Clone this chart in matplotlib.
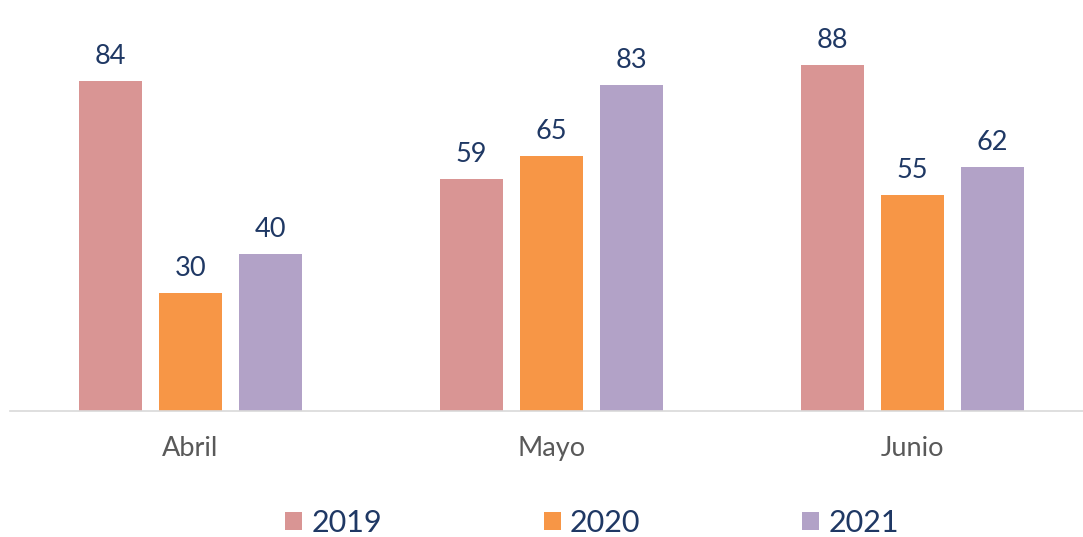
import matplotlib
matplotlib.use("Agg")
import matplotlib.pyplot as plt
import numpy as np

months = ["Abril", "Mayo", "Junio"]
years = ["2019", "2020", "2021"]
v2019 = [84, 59, 88]
v2020 = [30, 65, 55]
v2021 = [40, 83, 62]
series = [v2019, v2020, v2021]
colors = ["#D99594", "#F79646", "#B2A2C7"]

W, H = 1083, 537
fig = plt.figure(figsize=(W / 100, H / 100), dpi=100)
plt.rcParams['font.family'] = ['Lato', 'DejaVu Sans']
ax = fig.add_axes([10 / W, (H - 411) / H, (W - 10) / W, 411 / H])

x = np.arange(len(months))
bw = 63 / 361
off = 80 / 361
handles = []
for i, (vals, c, yr) in enumerate(zip(series, colors, years)):
    b = ax.bar(x + (i - 1) * off, vals, width=bw, color=c, label=yr)
    handles.append(b)
    for xi, v in zip(x + (i - 1) * off, vals):
        ax.annotate(str(v), (xi, v), xytext=(0, 12), textcoords="offset pixels",
                    ha="center", va="bottom", fontsize=19.5, color="#1F3864")

ax.set_xlim(-0.5, (W - 190.5) / 361)
ax.set_ylim(0, 411 / 3.93)
ax.set_yticks([])
ax.set_xticks(x)
ax.set_xticklabels(months, fontsize=19.5, color="#595959")
ax.tick_params(axis="x", length=0, pad=18)
for s in ["top", "right", "left"]:
    ax.spines[s].set_visible(False)
ax.spines["bottom"].set_color("#D9D9D9")
ax.spines["bottom"].set_linewidth(1.2)

leg = fig.legend(handles=handles, labels=years, loc="center", bbox_to_anchor=(592 / W, 1 - 523 / H),
                 ncol=3, frameon=False, fontsize=22, handlelength=0.55, handleheight=0.55,
                 handletextpad=0.3, columnspacing=5.3, labelcolor="#1F3864")

fig.savefig("out.png", dpi=100)
